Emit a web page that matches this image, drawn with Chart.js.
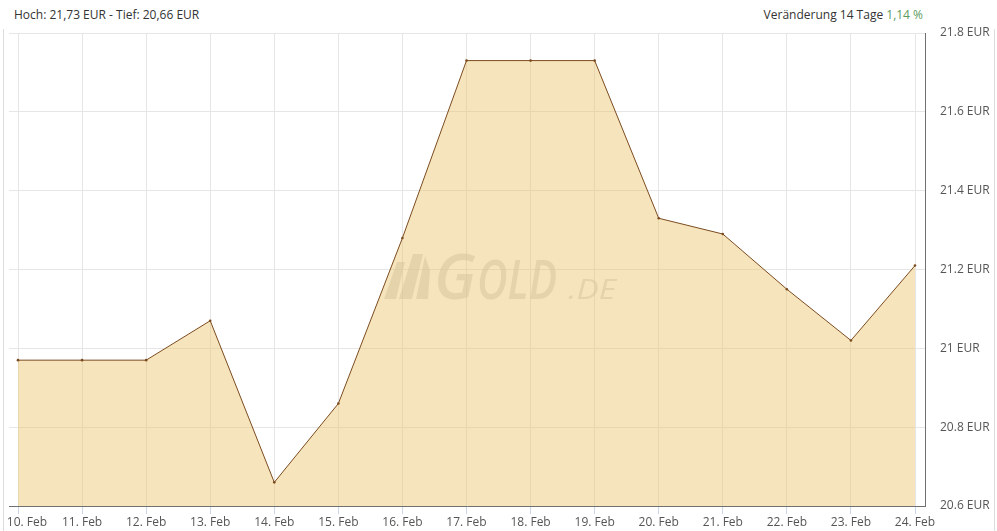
<!DOCTYPE html>
<html>
<head>
<meta charset="utf-8">
<script src="https://cdn.jsdelivr.net/npm/chart.js@4"></script>
<style>
    html, body { margin: 0; padding: 0; background: #fff; }
    body { width: 997px; height: 531px; position: relative; overflow: hidden; font-family: "Open Sans", sans-serif; }
    .frame { position: absolute; left: 3px; right: 2px; top: 29px; bottom: 0; border-left: 1px solid #ddd; border-right: 1px solid #ddd; }
    .head { position: absolute; top: 6px; font-size: 12px; color: #333; }
    .head.left { left: 14px; }
    .head.right { right: 74px; }
    .head .up { color: #5d9b5d; }
    #chartWrap { position: absolute; left: 0; top: 0; width: 997px; height: 531px; }
</style>
</head>
<body>
<div class="frame"></div>
<div class="head left">Hoch: 21,73 EUR - Tief: 20,66 EUR</div>
<div class="head right">Veränderung 14 Tage <span class="up">1,14 %</span></div>
<div id="chartWrap"><canvas id="goldChart"></canvas></div>
<script>
/* Goldpreis 14 Tage */

const dayLabels = ['10. Feb', '11. Feb', '12. Feb', '13. Feb', '14. Feb', '15. Feb', '16. Feb',
    '17. Feb', '18. Feb', '19. Feb', '20. Feb', '21. Feb', '22. Feb', '23. Feb', '24. Feb'];
const priceEur = [20.97, 20.97, 20.97, 21.07, 20.66, 20.86, 21.28,
    21.73, 21.73, 21.73, 21.33, 21.29, 21.15, 21.02, 21.21];
const yTicks = [20.6, 20.8, 21, 21.2, 21.4, 21.6, 21.8];

document.addEventListener('DOMContentLoaded', function() {
    const ctx = document.getElementById('goldChart');

    // draw text squeezed into a given width
    function fitText(c, text, font, x, baseline, width) {
        c.font = font;
        const w = c.measureText(text).width;
        c.save();
        c.translate(x, baseline);
        c.scale(width / w, 1);
        c.fillText(text, 0, 0);
        c.restore();
    }

    // Watermark behind the area fill
    const watermark = {
        id: 'watermark',
        beforeDatasetsDraw(chart) {
            const c = chart.ctx;
            c.save();
            c.fillStyle = 'rgba(195,195,195,0.5)';
            // logo mark
            c.beginPath();
            c.moveTo(384, 299); c.lineTo(397, 262); c.lineTo(405, 262); c.lineTo(396, 299); c.closePath();
            c.moveTo(399, 299); c.lineTo(413, 254); c.lineTo(423, 254); c.lineTo(412, 299); c.closePath();
            c.moveTo(416, 299); c.lineTo(425, 256); c.lineTo(430, 270); c.lineTo(428, 299); c.closePath();
            c.fill();
            c.textBaseline = 'alphabetic';
            fitText(c, 'G', 'italic 600 63px "Open Sans", sans-serif', 434, 299, 42);
            fitText(c, 'OLD', 'italic 600 55px "Open Sans", sans-serif', 477, 299, 80);
            fitText(c, '.DE', 'italic 28px "Open Sans", sans-serif', 568, 299, 48);
            c.restore();
        }
    };

    new Chart(ctx, {
        type: 'line',
        data: {
            datasets: [{
                data: priceEur.map((v, i) => ({ x: i, y: v })),
                borderColor: '#7b4b1f',
                borderWidth: 1,
                backgroundColor: 'rgba(233,196,106,0.45)',
                fill: 'start',
                tension: 0,
                pointRadius: 1.3,
                pointBackgroundColor: '#7b4b1f',
                pointBorderWidth: 0
            }]
        },
        options: {
            responsive: true,
            maintainAspectRatio: false,
            animation: false,
            layout: { padding: { left: 9, top: 33, right: 0, bottom: 0 } },
            plugins: {
                legend: { display: false },
                tooltip: { enabled: false }
            },
            scales: {
                x: {
                    type: 'linear',
                    min: -0.1405,
                    max: 14.156,
                    afterBuildTicks: s => { s.ticks = dayLabels.map((_, i) => ({ value: i })); },
                    afterFit: s => { s.paddingLeft = 0; s.paddingRight = 0; s.height = 25; },
                    grid: { color: '#e6e6e6', tickColor: '#ccd6eb', tickLength: 8 },
                    border: { color: '#707070', width: 1 },
                    ticks: {
                        autoSkip: false,
                        maxRotation: 0,
                        padding: 1,
                        color: '#555',
                        font: { family: '"Open Sans", sans-serif', size: 12 },
                        // first label is pushed inside the frame like the original
                        callback: v => (v === 0 ? '\u2002\u2002\u2002' : '') + dayLabels[v]
                    }
                },
                y: {
                    position: 'right',
                    min: 20.6,
                    max: 21.8,
                    afterBuildTicks: s => { s.ticks = yTicks.map(v => ({ value: v })); },
                    afterFit: s => { s.width = 72; },
                    grid: { color: '#e6e6e6', drawTicks: false },
                    border: { color: '#707070', width: 1 },
                    ticks: {
                        padding: 15,
                        color: '#555',
                        font: { family: '"Open Sans", sans-serif', size: 12 },
                        callback: v => Number(v.toFixed(1)) + ' EUR'
                    }
                }
            }
        },
        plugins: [watermark]
    });
});
</script>
</body>
</html>
